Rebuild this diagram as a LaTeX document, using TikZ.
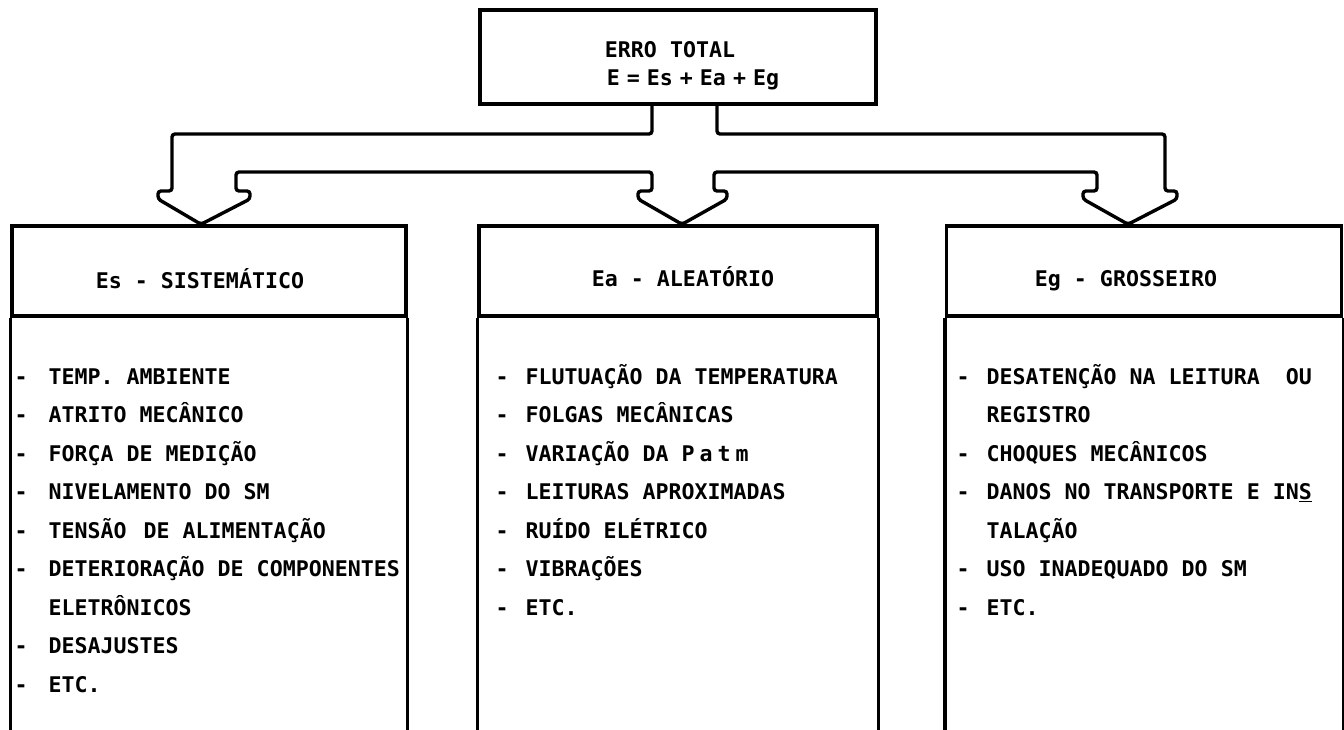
\documentclass[tikz,border=0pt]{standalone}
\usepackage{fontspec}
\setmonofont{DejaVu Sans Mono}
\usepackage{tikz}
\usetikzlibrary{calc,positioning}
\def\iw{30pt}
\newcommand{\itm}[1]{\makebox[\iw][l]{-}#1}
\newcommand{\cnt}[1]{\hspace*{\iw}#1}

\begin{document}
\begin{tikzpicture}[x=1pt,y=-1pt,line width=3.4pt,
    font=\fontsize{21.6pt}{38.5pt}\selectfont\ttfamily\bfseries,
    box/.style={draw,minimum height=90pt,inner sep=0pt},
    head/.style={anchor=base,inner sep=0pt},
    items/.style={anchor=base west,align=left,inner sep=0pt,
        execute at begin node={\gdef\iw{#1}}},
    items/.default=30pt]
	\useasboundingbox (0,0) rectangle (1344,730);
	\node[box,minimum width=396pt,minimum height=94pt] (total) at (678,57) {};
	\node[head] (totname) at (670,58) {ERRO TOTAL};
	\node[head] (toteq) at (693,86) {{\spaceskip=7pt E = Es + Ea + Eg}};
	\node[box,minimum width=394pt] (es) at (209,271) {};
	\node[box,minimum width=398pt] (ea) at (678,271) {};
	\node[box,minimum width=395pt] (eg) at (1144,271) {};
	\draw (es.south west) -- ++(0,420);  \draw (es.south east) -- ++(0,420);
	\draw (ea.south west) -- ++(0,420);  \draw (ea.south east) -- ++(0,420);
	\draw (eg.south west) -- ++(0,420);  \draw (eg.south east) -- ++(0,420);
	\node[head] (esname) at (200,288) {Es - SISTEMÁTICO};
	\node[head] (eaname) at (683,287) {Ea - ALEATÓRIO};
	\node[head] (egname) at (1126,287) {Eg - GROSSEIRO};
	\coordinate (tipS) at ($(es.north)+(-8,0)$);
	\coordinate (tipA) at ($(ea.north)+(4,0)$);
	\coordinate (tipG) at ($(eg.north)+(-16,0)$);
	\draw[rounded corners=3pt] ($(total.south)+(-26,0)$) -- (652,134) -- (172,134)
	    -- (172,191) -- (158,191) -- (158,199) -- (tipS) -- (250,199) -- (250,191)
	    -- (236,191) -- (236,172) -- (652,172) -- (652,191) -- (638,191) -- (638,199)
	    -- (tipA) -- (727,199) -- (727,191) -- (714,191) -- (714,172) -- (1097,172)
	    -- (1097,191) -- (1083,191) -- (1083,199) -- (tipG) -- (1177,199) -- (1177,191)
	    -- (1165,191) -- (1165,134) -- (717,134) -- ($(total.south)+(39,0)$);
	\node[items=34pt] (eslist) at (13,692) {%
	    \itm{TEMP. AMBIENTE}\\
	    \itm{ATRITO MECÂNICO}\\
	    \itm{FORÇA DE MEDIÇÃO}\\
	    \itm{NIVELAMENTO DO SM}\\
	    \itm{TENSÃO\hspace{17pt}DE ALIMENTAÇÃO}\\
	    \itm{DETERIORAÇÃO DE COMPONENTES}\\
	    \cnt{ELETRÔNICOS}\\
	    \itm{DESAJUSTES}\\
	    \itm{ETC.}};
	\node[items] (ealist) at (494,615) {%
	    \itm{FLUTUAÇÃO DA TEMPERATURA}\\
	    \itm{FOLGAS MECÂNICAS}\\
	    \itm{VARIAÇÃO DA P\kern5pt a\kern5pt t\kern5pt m}\\
	    \itm{LEITURAS APROXIMADAS}\\
	    \itm{RUÍDO ELÉTRICO}\\
	    \itm{VIBRAÇÕES}\\
	    \itm{ETC.}};
	\node[items] (eglist) at (955,615) {%
	    \itm{DESATENÇÃO NA LEITURA\ \ OU}\\
	    \cnt{REGISTRO}\\
	    \itm{CHOQUES MECÂNICOS}\\
	    \itm{DANOS NO TRANSPORTE E IN\underline{S}}\\
	    \cnt{TALAÇÃO}\\
	    \itm{USO INADEQUADO DO SM}\\
	    \itm{ETC.}};
\end{tikzpicture}
\end{document}
